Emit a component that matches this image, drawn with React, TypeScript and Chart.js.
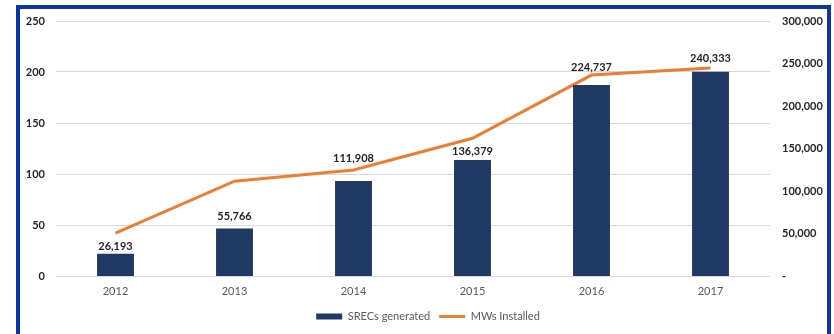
import React, { useEffect, useRef } from "react";
import { Chart, registerables } from "chart.js";

Chart.register(...registerables);

const years = ["2012", "2013", "2014", "2015", "2016", "2017"];
const srecsGenerated = [26193, 55766, 111908, 136379, 224737, 240333];
const mwsInstalled = [42, 93, 104, 135, 197, 204];
const leftTicks = [0, 50, 100, 150, 200, 250];
const rightTicks = [0, 50000, 100000, 150000, 200000, 250000, 300000];
// vertical lift (px) of each bar's value label above the bar top
const labelLift = [7, 12, 22, 9, 18, 13];

const FONT = "Lato, 'Open Sans', sans-serif";

const barLabels = {
  id: "barLabels",
  afterDatasetsDraw(chart: any) {
    const meta = chart.getDatasetMeta(0);
    const ctx = chart.ctx;
    ctx.save();
    ctx.font = `bold 11px ${FONT}`;
    ctx.fillStyle = "#262626";
    ctx.textAlign = "center";
    ctx.textBaseline = "middle";
    meta.data.forEach((el: any, i: number) => {
      ctx.fillText(srecsGenerated[i].toLocaleString("en-US"), el.x, el.y - labelLift[i]);
    });
    ctx.restore();
  },
};

export default function App() {
  const ref = useRef<HTMLCanvasElement>(null);
  useEffect(() => {
    if (!ref.current) return;
    const chart = new Chart(ref.current, {
      type: "bar",
      data: {
        labels: years,
        datasets: [
          {
            type: "bar",
            label: "SRECs generated",
            data: srecsGenerated,
            backgroundColor: "#203864",
            borderWidth: 0,
            yAxisID: "y1",
            categoryPercentage: 1,
            barPercentage: 0.31,
            pointStyle: "rect",
          } as any,
          {
            type: "line",
            label: "MWs Installed",
            data: mwsInstalled,
            borderColor: "#ED7D31",
            backgroundColor: "#ED7D31",
            borderWidth: 3,
            pointRadius: 0,
            tension: 0,
            yAxisID: "y",
            pointStyle: "line",
          } as any,
        ],
      },
      options: {
        animation: false,
        responsive: false,
        layout: { padding: { left: 22, right: 0, top: 21, bottom: 2 } },
        plugins: {
          tooltip: { enabled: false },
          legend: {
            position: "bottom",
            labels: {
              usePointStyle: true,
              pointStyleWidth: 26,
              boxHeight: 6,
              padding: 9,
              color: "#595959",
              font: { family: FONT, size: 11 },
            },
          },
        },
        scales: {
          x: {
            grid: { display: false, drawTicks: false },
            border: { display: false },
            afterFit: (s: any) => {
              s.height = 26;
            },
            ticks: { color: "#595959", font: { family: FONT, size: 11 }, padding: 9 },
          },
          y: {
            position: "left",
            min: 0,
            max: 250,
            afterFit: (s: any) => {
              s.width = 34;
            },
            afterBuildTicks: (s: any) => {
              s.ticks = leftTicks.map((v) => ({ value: v }));
            },
            grid: { color: "#d9d9d9", drawTicks: false },
            border: { display: false },
            ticks: {
              color: "#262626",
              font: { family: FONT, size: 11, weight: "bold" },
              padding: 11,
            },
          },
          y1: {
            position: "right",
            min: 0,
            max: 300000,
            afterFit: (s: any) => {
              s.width = 64;
            },
            afterBuildTicks: (s: any) => {
              s.ticks = rightTicks.map((v) => ({ value: v }));
            },
            grid: { display: false, drawTicks: false },
            border: { display: false },
            ticks: {
              color: "#262626",
              font: { family: FONT, size: 11, weight: "bold" },
              padding: 12,
              callback: (v: any) => (Number(v) === 0 ? "-" : Number(v).toLocaleString("en-US")),
            },
          },
        },
      },
      plugins: [barLabels],
    });
    return () => chart.destroy();
  }, []);

  return (
    <div style={{ position: "fixed", left: 0, top: 0, width: 834, height: 334, background: "#fff", overflow: "hidden" }}>
      <div
        style={{
          position: "absolute",
          left: 16,
          top: 5,
          width: 815,
          height: 360,
          boxSizing: "border-box",
          border: "4px solid #0A35A5",
          borderBottom: "none",
        }}
      />
      <canvas ref={ref} width={834} height={334} style={{ position: "absolute", left: 0, top: 0, width: 834, height: 334 }} />
    </div>
  );
}
